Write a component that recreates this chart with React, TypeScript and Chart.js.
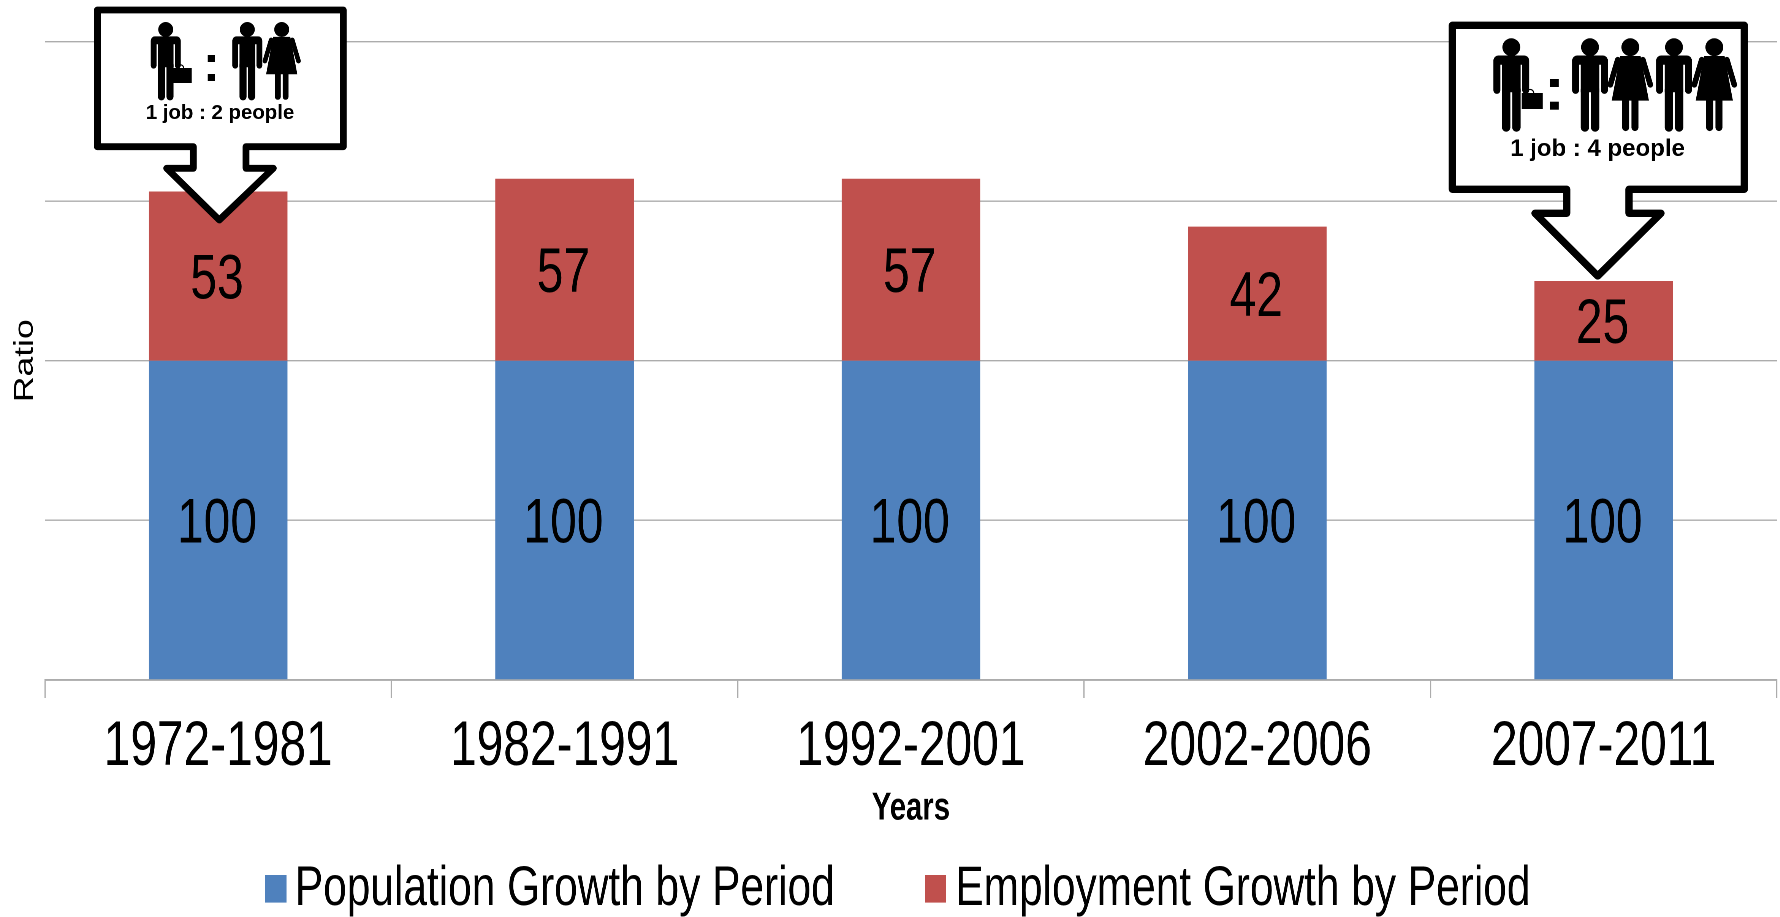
import React, { useEffect, useRef } from "react";
import { Chart, registerables } from "chart.js";

Chart.register(...registerables);

const categories = ["1972-1981", "1982-1991", "1992-2001", "2002-2006", "2007-2011"];
const populationGrowth = [100, 100, 100, 100, 100];
const employmentGrowth = [53, 57, 57, 42, 25];
const seriesNames = ["Population Growth by Period", "Employment Growth by Period"];
const seriesColors = ["#4F81BD", "#C0504D"];
const xTitle = "Years";
const yTitle = "Ratio";
const calloutTexts = ["1 job : 2 people", "1 job : 4 people"];

// The reference is squeezed horizontally: the chart is laid out wider and scaled back.
const SX = 0.76;
const W = 1780 / SX;
const H = 917;
const FONT = '"Liberation Sans", Arial, sans-serif';

function person(ctx: CanvasRenderingContext2D, cx: number, top: number, h: number, woman: boolean) {
  ctx.save();
  ctx.translate(cx, top);
  ctx.scale(h, h);
  ctx.fillStyle = "#000";
  ctx.strokeStyle = "#000";
  ctx.lineCap = "round";
  ctx.beginPath();
  ctx.arc(0, 0.096, 0.096, 0, Math.PI * 2);
  ctx.fill();
  const line = (x1: number, y1: number, x2: number, y2: number, w: number) => {
    ctx.lineWidth = w;
    ctx.beginPath();
    ctx.moveTo(x1, y1);
    ctx.lineTo(x2, y2);
    ctx.stroke();
  };
  if (woman) {
    ctx.beginPath();
    ctx.moveTo(-0.11, 0.19);
    ctx.lineTo(0.11, 0.19);
    ctx.lineTo(0.2, 0.67);
    ctx.lineTo(-0.2, 0.67);
    ctx.closePath();
    ctx.fill();
    line(-0.135, 0.23, -0.215, 0.5, 0.06);
    line(0.135, 0.23, 0.215, 0.5, 0.06);
    line(-0.05, 0.62, -0.05, 0.96, 0.075);
    line(0.05, 0.62, 0.05, 0.96, 0.075);
  } else {
    ctx.beginPath();
    ctx.roundRect(-0.19, 0.185, 0.38, 0.1, 0.06);
    ctx.fill();
    ctx.fillRect(-0.1, 0.2, 0.2, 0.38);
    line(-0.155, 0.24, -0.155, 0.56, 0.075);
    line(0.155, 0.24, 0.155, 0.56, 0.075);
    line(-0.055, 0.55, -0.055, 0.96, 0.09);
    line(0.055, 0.55, 0.055, 0.96, 0.09);
  }
  ctx.restore();
}

function briefcase(ctx: CanvasRenderingContext2D, x: number, y: number, w: number, h: number) {
  ctx.fillStyle = "#000";
  ctx.fillRect(x, y, w, h);
  ctx.strokeStyle = "#000";
  ctx.lineWidth = 1.2;
  ctx.beginPath();
  ctx.arc(x + w * 0.4, y, w * 0.17, Math.PI, 0);
  ctx.stroke();
}

type Box = {
  l: number; t: number; r: number; b: number;
  stemL: number; stemR: number; neck: number;
  headL: number; headR: number; tipX: number; tipY: number;
  sw: number;
};

function balloon(ctx: CanvasRenderingContext2D, c: Box) {
  ctx.beginPath();
  ctx.moveTo(c.l, c.t);
  ctx.lineTo(c.r, c.t);
  ctx.lineTo(c.r, c.b);
  ctx.lineTo(c.stemR, c.b);
  ctx.lineTo(c.stemR, c.neck);
  ctx.lineTo(c.headR, c.neck);
  ctx.lineTo(c.tipX, c.tipY);
  ctx.lineTo(c.headL, c.neck);
  ctx.lineTo(c.stemL, c.neck);
  ctx.lineTo(c.stemL, c.b);
  ctx.lineTo(c.l, c.b);
  ctx.closePath();
  ctx.fillStyle = "#fff";
  ctx.fill();
  ctx.strokeStyle = "#000";
  ctx.lineWidth = c.sw;
  ctx.lineJoin = "round";
  ctx.stroke();
}

function drawCallouts(ctx: CanvasRenderingContext2D) {
  // first balloon
  balloon(ctx, { l: 97.3, t: 10, r: 343.3, b: 146.7, stemL: 193.3, stemR: 246, neck: 168.3, headL: 166.7, headR: 273.3, tipX: 219.3, tipY: 220, sw: 6.8 });
  person(ctx, 165.7, 22, 78, false);
  briefcase(ctx, 173, 68, 18.7, 15);
  ctx.fillStyle = "#000";
  ctx.fillRect(207.7, 55, 7.3, 7);
  ctx.fillRect(207.7, 74, 7.3, 7);
  person(ctx, 247.3, 22, 78, false);
  person(ctx, 281.7, 22, 78, true);
  ctx.textAlign = "center";
  ctx.textBaseline = "alphabetic";
  ctx.font = `bold 20.4px ${FONT}`;
  ctx.fillText(calloutTexts[0], 220, 119);

  // second balloon
  balloon(ctx, { l: 1452.3, t: 25.3, r: 1744.3, b: 189.3, stemL: 1566.7, stemR: 1629, neck: 213.3, headL: 1535, headR: 1661, tipX: 1597.7, tipY: 276, sw: 7.3 });
  person(ctx, 1511.3, 38.3, 93, false);
  briefcase(ctx, 1521.7, 93, 21, 16);
  ctx.fillStyle = "#000";
  ctx.fillRect(1550, 79, 8.7, 8);
  ctx.fillRect(1550, 101.7, 8.7, 8);
  person(ctx, 1590, 38.3, 93, false);
  person(ctx, 1630.3, 38.3, 93, true);
  person(ctx, 1674, 38.3, 93, false);
  person(ctx, 1714.3, 38.3, 93, true);
  ctx.fillStyle = "#000";
  ctx.textAlign = "center";
  ctx.font = `bold 24px ${FONT}`;
  ctx.fillText(calloutTexts[1], 1597.5, 156);
}

const overlayPlugin = {
  id: "overlay",
  afterDatasetsDraw(chart: any) {
    const { ctx } = chart;
    ctx.save();
    ctx.fillStyle = "#000";
    ctx.font = `63px ${FONT}`;
    ctx.textAlign = "center";
    ctx.textBaseline = "middle";
    chart.data.datasets.forEach((ds: any, di: number) => {
      chart.getDatasetMeta(di).data.forEach((bar: any, i: number) => {
        const y = (bar.y + bar.base) / 2;
        ctx.fillText(String(ds.data[i]), bar.x - 1.5, y + 5);
      });
    });
    ctx.restore();
  },
  afterDraw(chart: any) {
    const { ctx } = chart;
    // legend
    ctx.save();
    const boxX = [349, 1217];
    const textX = [388, 1257];
    chart.data.datasets.forEach((ds: any, i: number) => {
      ctx.fillStyle = ds.backgroundColor;
      ctx.fillRect(boxX[i], 875, 28, 27.6);
      ctx.fillStyle = "#000";
      ctx.font = `55.8px ${FONT}`;
      ctx.textAlign = "left";
      ctx.textBaseline = "alphabetic";
      ctx.fillText(ds.label, textX[i], 905);
    });
    ctx.restore();
    // callouts are undistorted in the reference
    ctx.save();
    ctx.scale(1 / SX, 1);
    drawCallouts(ctx);
    ctx.restore();
  },
};

export default function App() {
  const ref = useRef<HTMLCanvasElement>(null);
  useEffect(() => {
    const chart = new Chart(ref.current!, {
      type: "bar",
      data: {
        labels: categories,
        datasets: [
          { label: seriesNames[0], data: populationGrowth, backgroundColor: seriesColors[0], categoryPercentage: 1, barPercentage: 0.4 },
          { label: seriesNames[1], data: employmentGrowth, backgroundColor: seriesColors[1], categoryPercentage: 1, barPercentage: 0.4 },
        ],
      },
      options: {
        responsive: false,
        animation: false,
        devicePixelRatio: 2,
        layout: { padding: { top: 41.5, left: 0, right: 4, bottom: 85 } },
        plugins: { legend: { display: false }, tooltip: { enabled: false } },
        scales: {
          x: {
            stacked: true,
            afterFit: (s: any) => { s.height = 152; },
            grid: { drawOnChartArea: false, drawTicks: true, tickLength: 18, color: "#ACACAC", lineWidth: 1.6 },
            border: { color: "#ACACAC", width: 1.6 },
            ticks: { color: "#000", padding: 12, maxRotation: 0, font: { family: FONT, size: 63 } },
            title: { display: true, text: xTitle, color: "#000", padding: 0, font: { family: FONT, size: 38.6, weight: "bold" } },
          },
          y: {
            stacked: true,
            min: 0,
            max: 200,
            afterFit: (s: any) => { s.width = 59.2; },
            grid: { drawTicks: false, color: "#ACACAC", lineWidth: 1.4 },
            border: { display: false },
            ticks: { display: false, stepSize: 50 },
            title: { display: true, text: yTitle, color: "#000", padding: { top: 12, bottom: 0 }, font: { family: FONT, size: 35.5, weight: "normal" } },
          },
        },
      },
      plugins: [overlayPlugin],
    } as any);
    return () => chart.destroy();
  }, []);
  return (
    <div style={{ position: "absolute", left: 0, top: 0, width: 1780, height: H, overflow: "hidden", background: "#fff" }}>
      <div style={{ width: W, height: H, transform: `scaleX(${SX})`, transformOrigin: "0 0" }}>
        <canvas ref={ref} width={W} height={H} style={{ display: "block" }} />
      </div>
    </div>
  );
}
